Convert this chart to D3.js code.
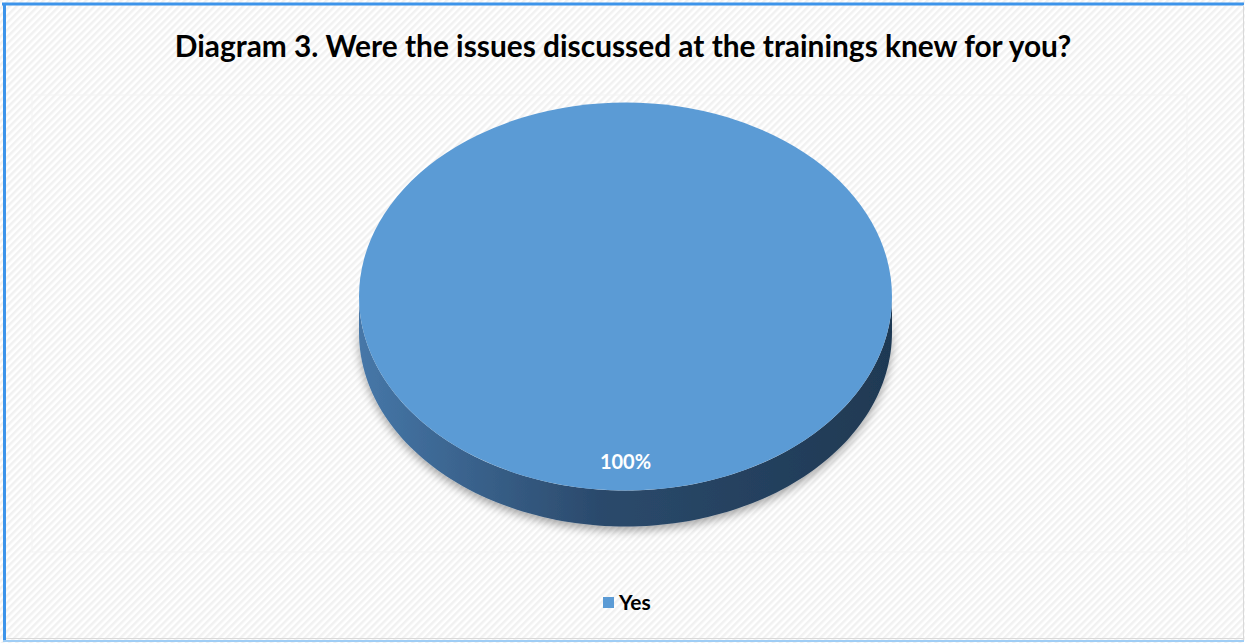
<!DOCTYPE html>
<html>
<head>
<meta charset="utf-8">
<script src="https://cdn.jsdelivr.net/npm/d3@7"></script>
<style>
  body { margin: 0; background: #fff; }
  svg { display: block; }
  text { font-family: Lato, "Open Sans", sans-serif; }
</style>
</head>
<body>
<div id="chart"></div>
<script>
// chart data
const categories = ["Yes"];
const values = [100];
const colors = ["#5b9bd5"];
const title = "Diagram 3. Were the issues discussed at the trainings knew for you?";

const W = 1245, H = 643;
const cx = 625.5, cy = 296.5;   // centre of the top ellipse
const rx = 266.5, ry = 194;     // radii
const depth = 36;

const svg = d3.select('#chart').append('svg')
  .attr('width', W)
  .attr('height', H);

const defs = svg.append('defs');

// diagonal hatch background
const pat = defs.append('pattern')
  .attr('id', 'hatch')
  .attr('patternUnits', 'userSpaceOnUse')
  .attr('width', 5).attr('height', 5)
  .attr('patternTransform', 'rotate(45)');
pat.append('rect').attr('width', 5).attr('height', 5).attr('fill', '#ffffff');
pat.append('rect').attr('width', 2.5).attr('height', 5).attr('fill', '#f1f1f1');

// side gradient
const grad = defs.append('linearGradient')
  .attr('id', 'side')
  .attr('gradientUnits', 'userSpaceOnUse')
  .attr('x1', cx - rx).attr('x2', cx + rx).attr('y1', 0).attr('y2', 0);
grad.append('stop').attr('offset', '0%').attr('stop-color', '#4677a8');
grad.append('stop').attr('offset', '45%').attr('stop-color', '#2b4a6c');
grad.append('stop').attr('offset', '100%').attr('stop-color', '#1f3953');

// soft shadow
const shadow = defs.append('filter')
  .attr('id', 'shadow')
  .attr('x', '-20%').attr('y', '-20%').attr('width', '140%').attr('height', '140%');
shadow.append('feDropShadow')
  .attr('dx', 0).attr('dy', 4).attr('stdDeviation', 5)
  .attr('flood-color', '#000').attr('flood-opacity', 0.35);

// background + frame
svg.append('rect')
  .attr('x', 0).attr('y', 0).attr('width', W).attr('height', H)
  .attr('fill', 'url(#hatch)');

// plot area (very faint)
svg.append('rect')
  .attr('x', 32).attr('y', 95).attr('width', 1155).attr('height', 457)
  .attr('fill', 'none')
  .attr('stroke', '#f3f3f3')
  .attr('stroke-width', 1);

// frame lines
svg.append('line').attr('x1', 2).attr('x2', W - 1).attr('y1', 4).attr('y2', 4)
  .attr('stroke', '#3d94ea').attr('stroke-width', 3);
svg.append('line').attr('x1', 4.5).attr('x2', 4.5).attr('y1', 3).attr('y2', H - 2)
  .attr('stroke', '#3d94ea').attr('stroke-width', 3);
svg.append('line').attr('x1', W - 1.5).attr('x2', W - 1.5).attr('y1', 5).attr('y2', H - 3)
  .attr('stroke', '#d9d9d9').attr('stroke-width', 1);
svg.append('line').attr('x1', 6).attr('x2', W - 1).attr('y1', H - 4.5).attr('y2', H - 4.5)
  .attr('stroke', '#d9d9d9').attr('stroke-width', 1);
svg.append('line').attr('x1', 3).attr('x2', W - 1).attr('y1', H - 2).attr('y2', H - 2)
  .attr('stroke', '#9fcdf5').attr('stroke-width', 2);

// title
const titleText = svg.append('text')
  .attr('x', 623)
  .attr('y', 57)
  .attr('text-anchor', 'middle')
  .attr('font-weight', 'bold')
  .attr('font-size', 24)
  .attr('fill', '#000')
  .text(title);
// fit the title to the width it has in the original
const tw = titleText.node().getComputedTextLength();
titleText.attr('font-size', 24 * 897 / tw);

// pie
const pie = d3.pie().sort(null).value(d => d)
  .startAngle(0).endAngle(2 * Math.PI);
const arcs = pie(values);
const arc = d3.arc().innerRadius(0).outerRadius(rx);
const sy = ry / rx;

const pieG = svg.append('g');

// side wall: front (lower) half of the ellipse, extruded downward
const sidePath = d3.path();
const steps = 120;
for (let i = 0; i <= steps; i++) {
  const t = Math.PI * i / steps;           // 0..pi, right to left along the front
  const x = cx + rx * Math.cos(t);
  const y = cy + ry * Math.sin(t);
  if (i === 0) sidePath.moveTo(x, y); else sidePath.lineTo(x, y);
}
for (let i = steps; i >= 0; i--) {
  const t = Math.PI * i / steps;
  sidePath.lineTo(cx + rx * Math.cos(t), cy + depth + ry * Math.sin(t));
}
sidePath.closePath();

pieG.append('path')
  .attr('d', sidePath.toString())
  .attr('fill', 'url(#side)')
  .attr('filter', 'url(#shadow)');

// top face
pieG.selectAll('path.slice')
  .data(arcs)
  .join('path')
  .attr('class', 'slice')
  .attr('transform', `translate(${cx},${cy}) scale(1,${sy})`)
  .attr('d', arc)
  .attr('fill', (d, i) => colors[i]);

// data label
const total = d3.sum(values);
pieG.selectAll('text.label')
  .data(arcs)
  .join('text')
  .attr('class', 'label')
  .attr('x', cx)
  .attr('y', 469)
  .attr('text-anchor', 'middle')
  .attr('font-weight', 'bold')
  .attr('font-size', 20)
  .attr('fill', '#fff')
  .text(d => Math.round(d.value / total * 100) + '%');

// legend
const legend = svg.append('g').attr('transform', 'translate(603,597)');
legend.selectAll('rect')
  .data(categories)
  .join('rect')
  .attr('x', 0).attr('y', 0)
  .attr('width', 11).attr('height', 11)
  .attr('fill', (d, i) => colors[i]);
legend.selectAll('text')
  .data(categories)
  .join('text')
  .attr('x', 16)
  .attr('y', 13)
  .attr('font-weight', 'bold')
  .attr('font-size', 21)
  .attr('fill', '#000')
  .text(d => d);
</script>
</body>
</html>
